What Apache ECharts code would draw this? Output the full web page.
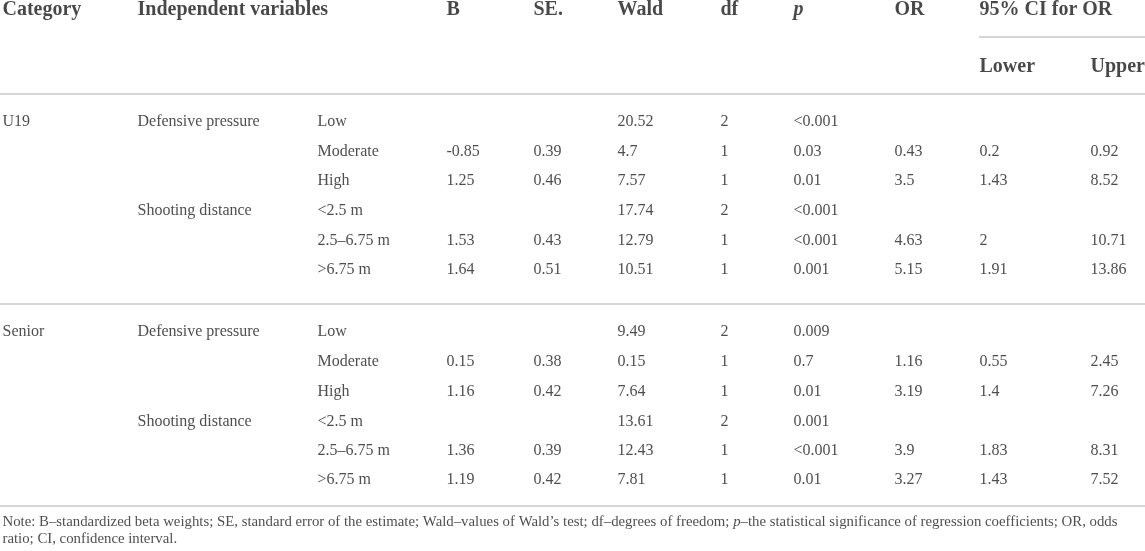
<!DOCTYPE html>
<html>
<head>
<meta charset="utf-8">
<script src="https://cdn.jsdelivr.net/npm/echarts@6/dist/echarts.min.js"></script>
<style>
  html, body { margin: 0; padding: 0; background: #fff; }
  #table-chart { width: 1145px; height: 551px; }
</style>
</head>
<body>
<div id="table-chart"></div>
<script>
// --- 表格数据 ---
const headers = ['Category', 'Independent variables', 'B', 'SE.', 'Wald', 'df', 'p', 'OR', '95% CI for OR'];
const subHeaders = ['Lower', 'Upper'];
const groups = ['U19', 'Senior'];
const variables = ['Defensive pressure', 'Shooting distance'];
const levels = ['Low', 'Moderate', 'High', '<2.5 m', '2.5–6.75 m', '>6.75 m'];

// 每组 6 行：U19 在前，Senior 在后
const bValues    = [null, -0.85, 1.25, null, 1.53, 1.64,   null, 0.15, 1.16, null, 1.36, 1.19];
const seValues   = [null, 0.39, 0.46, null, 0.43, 0.51,    null, 0.38, 0.42, null, 0.39, 0.42];
const waldValues = [20.52, 4.7, 7.57, 17.74, 12.79, 10.51, 9.49, 0.15, 7.64, 13.61, 12.43, 7.81];
const dfValues   = [2, 1, 1, 2, 1, 1,                      2, 1, 1, 2, 1, 1];
const pValues    = ['<0.001', '0.03', '0.01', '<0.001', '<0.001', '0.001', '0.009', '0.7', '0.01', '0.001', '<0.001', '0.01'];
const orValues   = [null, 0.43, 3.5, null, 4.63, 5.15,     null, 1.16, 3.19, null, 3.9, 3.27];
const lowerCI    = [null, 0.2, 1.43, null, 2, 1.91,        null, 0.55, 1.4, null, 1.83, 1.43];
const upperCI    = [null, 0.92, 8.52, null, 10.71, 13.86,  null, 2.45, 7.26, null, 8.31, 7.52];

const noteLine1 = ['Note: B–standardized beta weights; SE, standard error of the estimate; Wald–values of Wald’s test; df–degrees of freedom; ', 'p', '–the statistical significance of regression coefficients; OR, odds'];
const noteLine2 = 'ratio; CI, confidence interval.';

// --- 版式（像素坐标，仅用于布局） ---
const W = 1145, H = 551;
const COL_X = [2, 137, 317, 446, 533, 617, 720, 793, 894, 979, 1090];
const HEAD_Y = 9.5, SUBHEAD_Y = 66.5;
const ROW_Y = [122, 152, 181, 211, 241, 270, 332, 362, 392, 422, 451, 480];
const RULE_Y = [94, 304, 506];
const CI_RULE_Y = 37;
const NOTE_Y = [522, 539];

const FONT = '"Liberation Serif", "DejaVu Serif", serif';
const fmt = v => (v === null || v === undefined) ? '' : String(v);

// 表头
const headData = headers.map((h, i) => {
    const col = i < 2 ? i : i + 1;
    return {
        value: [COL_X[col], HEAD_Y], text: h,
        label: h === 'p' ? { fontStyle: 'italic' } : {}
    };
});
subHeaders.forEach((h, i) => headData.push({ value: [COL_X[9 + i], SUBHEAD_Y], text: h }));

// 表体
const bodyData = [];
ROW_Y.forEach((y, r) => {
    const g = Math.floor(r / 6), k = r % 6;
    const cells = [
        k === 0 ? groups[g] : '',
        k % 3 === 0 ? variables[k / 3] : '',
        levels[k],
        fmt(bValues[r]), fmt(seValues[r]), fmt(waldValues[r]), fmt(dfValues[r]),
        pValues[r], fmt(orValues[r]), fmt(lowerCI[r]), fmt(upperCI[r])
    ];
    cells.forEach((t, c) => { if (t) bodyData.push({ value: [COL_X[c], y], text: t }); });
});

// 横线
const rules = RULE_Y.map(y => [{ coord: [0, y] }, { coord: [W, y] }]);
rules.push([{ coord: [COL_X[9], CI_RULE_Y] }, { coord: [W, CI_RULE_Y] }]);

const chart = echarts.init(document.getElementById('table-chart'), null, { renderer: 'canvas' });
chart.setOption({
    backgroundColor: '#fff',
    animation: false,
    grid: { left: 0, right: 0, top: 0, bottom: 0 },
    xAxis: { type: 'value', min: 0, max: W, show: false },
    yAxis: { type: 'value', min: 0, max: H, inverse: true, show: false },
    series: [
        {
            type: 'scatter', name: 'header', clip: false, symbolSize: 1,
            itemStyle: { color: 'rgba(0,0,0,0)' }, data: headData,
            label: {
                show: true, position: 'right', distance: 0, formatter: p => p.data.text,
                fontFamily: FONT, fontSize: 20, fontWeight: 'bold', color: '#1a1a1a'
            },
            markLine: {
                silent: true, symbol: 'none', label: { show: false },
                lineStyle: { color: '#c8c8c8', width: 1.5, type: 'solid' },
                data: rules
            }
        },
        {
            type: 'scatter', name: 'body', clip: false, symbolSize: 1,
            itemStyle: { color: 'rgba(0,0,0,0)' }, data: bodyData,
            label: {
                show: true, position: 'right', distance: 0, formatter: p => p.data.text,
                fontFamily: FONT, fontSize: 16, color: '#222'
            }
        },
        {
            type: 'scatter', name: 'note', clip: false, symbolSize: 1,
            itemStyle: { color: 'rgba(0,0,0,0)' },
            data: [
                { value: [COL_X[0], NOTE_Y[0]], text: '{a|' + noteLine1[0] + '}{i|' + noteLine1[1] + '}{a|' + noteLine1[2] + '}' },
                { value: [COL_X[0], NOTE_Y[1]], text: '{a|' + noteLine2 + '}' }
            ],
            label: {
                show: true, position: 'right', distance: 0, formatter: p => p.data.text,
                rich: {
                    a: { fontFamily: FONT, fontSize: 14.8, color: '#222' },
                    i: { fontFamily: FONT, fontSize: 14.8, color: '#222', fontStyle: 'italic' }
                }
            }
        }
    ]
});
</script>
</body>
</html>
